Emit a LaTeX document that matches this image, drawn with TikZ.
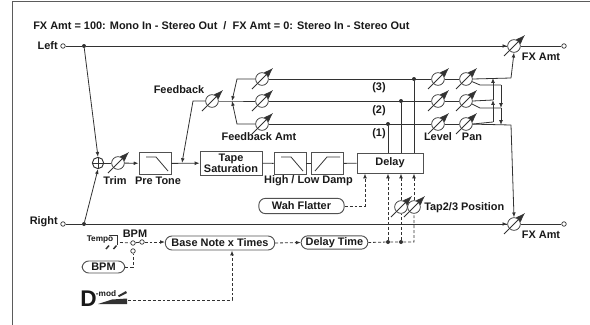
\documentclass[tikz,border=0pt]{standalone}
\usepackage{fontspec}
\setmainfont{Liberation Sans}[BoldFont={Liberation Sans Bold}]
\usetikzlibrary{calc, arrows.meta}
\definecolor{wire}{RGB}{50, 50, 50}
\tikzset{
  lbl/.style={inner sep=0pt, font=\bfseries\fontsize{8.2}{8.4}\selectfont, text=black!90, align=center},
  fxbox/.style={draw=wire!85, line width=0.7pt, inner sep=0pt},
  pill/.style={fxbox, rounded corners=5pt, inner sep=0pt},
  knob/.style={draw=wire, circle, minimum size=9.5pt, inner sep=0pt, line width=0.55pt},
  dot/.style={fill=wire, circle, minimum size=3pt, inner sep=0pt},
  port/.style={draw=wire, fill=white, circle, minimum size=3.4pt, inner sep=0pt, line width=0.5pt},
  tip/.style={-{Latex[length=3.6pt, width=2.8pt]}},
  sig/.style={draw=wire, line width=0.6pt},
  ctl/.style={sig, dash pattern=on 2.2pt off 1.5pt}
}
\newcommand{\knobat}[3]{%
  \node[knob] (#1) at (#2,#3) {};
  \draw[wire, line width=0.55pt, -{Latex[length=7pt, width=5pt]}] ([shift={(-10,10)}]#1.center) -- ([shift={(11,-11)}]#1.center);
}
\begin{document}
\begin{tikzpicture}[x=0.75pt, y=-0.75pt]
  \useasboundingbox (0,0) rectangle (590,325);
  % frame
  \draw[wire!80, line width=1pt] (12.5,325) -- (12.5,1.5) -- (590,1.5);
  \node[lbl, anchor=west] (title) at (33,26) {FX Amt = 100: Mono In - Stereo Out\ \ /\ \ FX Amt = 0: Stereo In - Stereo Out};

  % inputs and outputs
  \node[lbl, anchor=east] (leftlbl) at (58,45.5) {Left};
  \node[lbl, anchor=east] (rightlbl) at (58,222) {Right};
  \node[port] (inL) at (63,46) {};
  \node[port] (inR) at (63,224) {};
  \node[port] (outL) at (564,46) {};
  \node[port] (outR) at (564,224) {};
  \node[dot] (dotL) at (84,46) {};
  \node[dot] (dotR) at (84,224) {};
  \node[draw=wire, circle, minimum size=8.5pt, inner sep=0pt, line width=0.7pt] (adder) at (98,163) {};
  \draw[wire, line width=0.7pt] (adder.north) -- (adder.south) (adder.west) -- (adder.east);

  % knobs
  \knobat{fxL}{514}{46}
  \knobat{fxR}{514}{224}
  \knobat{trim}{118}{163}
  \knobat{fback}{212}{101}
  \foreach \n/\y in {a/79,b/101,c/124} {
    \knobat{fb\n}{262}{\y}
    \knobat{lev\n}{438}{\y}
    \knobat{pan\n}{466}{\y}
  }
  \knobat{tapB}{401}{207}
  \knobat{tapC}{414}{207}

  % boxes
  \node[fxbox, minimum width=24pt, minimum height=16pt] (pretone) at (155,163.5) {};
  \node[fxbox, lbl, minimum width=46.5pt, minimum height=18pt] (tape) at (231,163) {Tape\\Saturation};
  \node[fxbox, minimum width=24pt, minimum height=16pt] (high) at (290,163.5) {};
  \node[fxbox, minimum width=24pt, minimum height=16pt] (low) at (327.5,163.5) {};
  \node[fxbox, lbl, minimum width=49.5pt, minimum height=15pt] (delay) at (390,163) {Delay};
  \draw[sig] (146,157) -- (156,157) -- (168,171);
  \draw[sig] (281,157) -- (291,157) -- (303,171);
  \draw[sig] (315,171) -- (327,157) -- (340,157);
  \node[pill, lbl, minimum width=64pt, minimum height=11.5pt] (wah) at (301.5,206) {Wah Flatter};
  \node[pill, lbl, minimum width=82pt, minimum height=10.5pt] (base) at (220,243) {Base Note x Times};
  \node[pill, lbl, minimum width=50pt, minimum height=10pt] (dtime) at (334.5,242.5) {Delay Time};
  \node[pill, lbl, minimum width=32pt, minimum height=9pt] (bpmbox) at (103.5,267) {BPM};

  % labels
  \node[lbl] (trimlbl) at (115,180.5) {Trim};
  \node[lbl] (pretonelbl) at (158,180.5) {Pre Tone};
  \node[lbl] (damplbl) at (308.5,180.5) {High / Low Damp};
  \node[lbl] (fblbl) at (179,89.5) {Feedback};
  \node[lbl] (fbamtlbl) at (259,136.5) {Feedback Amt};
  \node[lbl] (levellbl) at (438,136.5) {Level};
  \node[lbl] (panlbl) at (472,136.5) {Pan};
  \node[lbl] (tap3lbl) at (379,88) {(3)};
  \node[lbl] (tap2lbl) at (379,110.5) {(2)};
  \node[lbl] (tap1lbl) at (379,134) {(1)};
  \node[lbl] (fxLlbl) at (541,56.5) {FX Amt};
  \node[lbl] (fxRlbl) at (541,234.5) {FX Amt};
  \node[lbl, anchor=west] (taplbl) at (424,207.5) {Tap2/3 Position};
  \node[lbl] (bpmlbl) at (135,233.5) {BPM};

  % dry path
  \draw[sig] (inL) -- (dotL) -- (fxL);
  \draw[sig] (fxL) -- (outL);
  \draw[sig] (inR) -- (dotR) -- (fxR);
  \draw[sig] (fxR) -- (outR);
  \draw[sig, tip] (dotL) -- (adder.north);
  \draw[sig, tip] (dotR) -- (adder.south);
  \draw[sig, tip] ([xshift=-8pt]fxL.west) -- (fxL.west);
  \draw[sig, tip] ([xshift=-8pt]fxR.west) -- (fxR.west);

  % wet path
  \draw[sig] (adder) -- (trim);
  \draw[sig, tip] (trim) -- (pretone);
  \draw[sig, tip] (pretone) -- (tape);
  \draw[sig] (tape) -- (high);
  \draw[sig] (high) -- (low);
  \draw[sig] (low) -- (delay);

  % feedback
  \coordinate (fbin) at (182,163);
  \coordinate (fbturn) at (193,101);
  \coordinate (fbjoin) at (232,101);
  \coordinate (fbtop) at (237,79);
  \coordinate (fbbot) at (237,124);
  \draw[sig, tip] (fback) -- (fbturn) -- (fbin);
  \draw[sig] (fback) -- (fbjoin) -- (fbb);
  \draw[sig, tip] (fba) -- (fbtop) -- (fbjoin);
  \draw[sig, tip] (fbc) -- (fbbot) -- (fbjoin);

  % taps
  \foreach \n/\x/\y in {a/414/79,b/401/101,c/388/124} {
    \node[dot] (tap\n) at (\x,\y) {};
    \draw[sig] (fb\n) -- (lev\n) -- (pan\n);
    \draw[sig] (tap\n) -- (tap\n |- delay.north);
  }

  % pan matrix
  \coordinate (busU) at (493,78);
  \coordinate (busUb) at (493,100);
  \coordinate (busUc) at (493,122);
  \coordinate (busD) at (501,85);
  \coordinate (busDb) at (501,108);
  \coordinate (busDc) at (501,125);
  \coordinate (fxLin) at (511,78);
  \coordinate (fxRin) at (511,125);
  \draw[sig, tip] (fxLin) -- (fxL.south);
  \draw[sig] (pana.east) -- (fxLin);
  \draw[sig] (pana) -- (480,85) -- (busD);
  \draw[sig] (panb.east) -- (busUb);
  \draw[sig] (panb) -- (480,108) -- (busDb);
  \draw[sig] (panc.east) -- (busUc);
  \draw[sig] (panc) -- (fxRin);
  \draw[sig, tip] (fxRin) -- (fxR.north);
  \draw[sig, tip] (busUc) -- (busUb);
  \draw[sig, tip] (busUb) -- (busU);
  \draw[sig, tip] (busD) -- (busDb);
  \draw[sig, tip] (busDb) -- (busDc);

  % tempo and modulation
  \node[lbl, font=\bfseries\fontsize{6.2}{6.4}\selectfont] (tempolbl) at (100,240) {Tempo};
  \draw[wire, line width=0.6pt] (109,235.5) -- (117.5,235.5) -- (117.5,245);
  \draw[wire, line width=1.1pt] (106,249) -- (109,245.5) (113.5,249) -- (116.5,245.5);
  \node[port] (swA) at (133,243) {};
  \node[port] (swB) at (142,242) {};
  \node[port] (swC) at (133,251) {};
  \coordinate (tempoout) at (120,242.5);
  \draw[ctl] (tempoout) -- (swA);
  \draw[sig] (swA) -- (swB);
  \draw[ctl, tip] (swB) -- (base.west |- swB);
  \draw[ctl] (bpmbox.east) -- (133,267) -- (swC);
  \node[lbl, font=\bfseries\fontsize{17}{17}\selectfont] (dlbl) at (88.5,298.5) {D};
  \node[lbl, font=\bfseries\fontsize{6.2}{6.4}\selectfont] (modlbl) at (106,294) {-mod};
  \fill[wire] (98,304) -- (112,299.5) -- (127,298.5) -- (127,304) -- cycle;
  \fill[wire] (118,295.5) -- (126,291) -- (127,293) -- (119,297) -- cycle;
  \coordinate (pedal) at (128,300);
  \coordinate (pedalturn) at (232,300);
  \draw[ctl, tip] (pedal) -- (pedalturn) -- (pedalturn |- base.south);

  % time controls
  \node[dot] (timeA) at (388,242) {};
  \node[dot] (timeB) at (401,242) {};
  \draw[ctl, tip] (base.east) -- (dtime.west);
  \draw[ctl] (dtime.east) -- (timeA) -- (timeB) -- (414,242) -- (tapC);
  \draw[ctl, tip] (tapC) -- (414,173.5);
  \draw[ctl] (timeB) -- (tapB);
  \draw[ctl, tip] (tapB) -- (401,173.5);
  \draw[ctl, tip] (timeA) -- (388,173.5);
  \draw[ctl, tip] (wah.east) -- (365,206) -- (365,173.5);
\end{tikzpicture}
\end{document}
